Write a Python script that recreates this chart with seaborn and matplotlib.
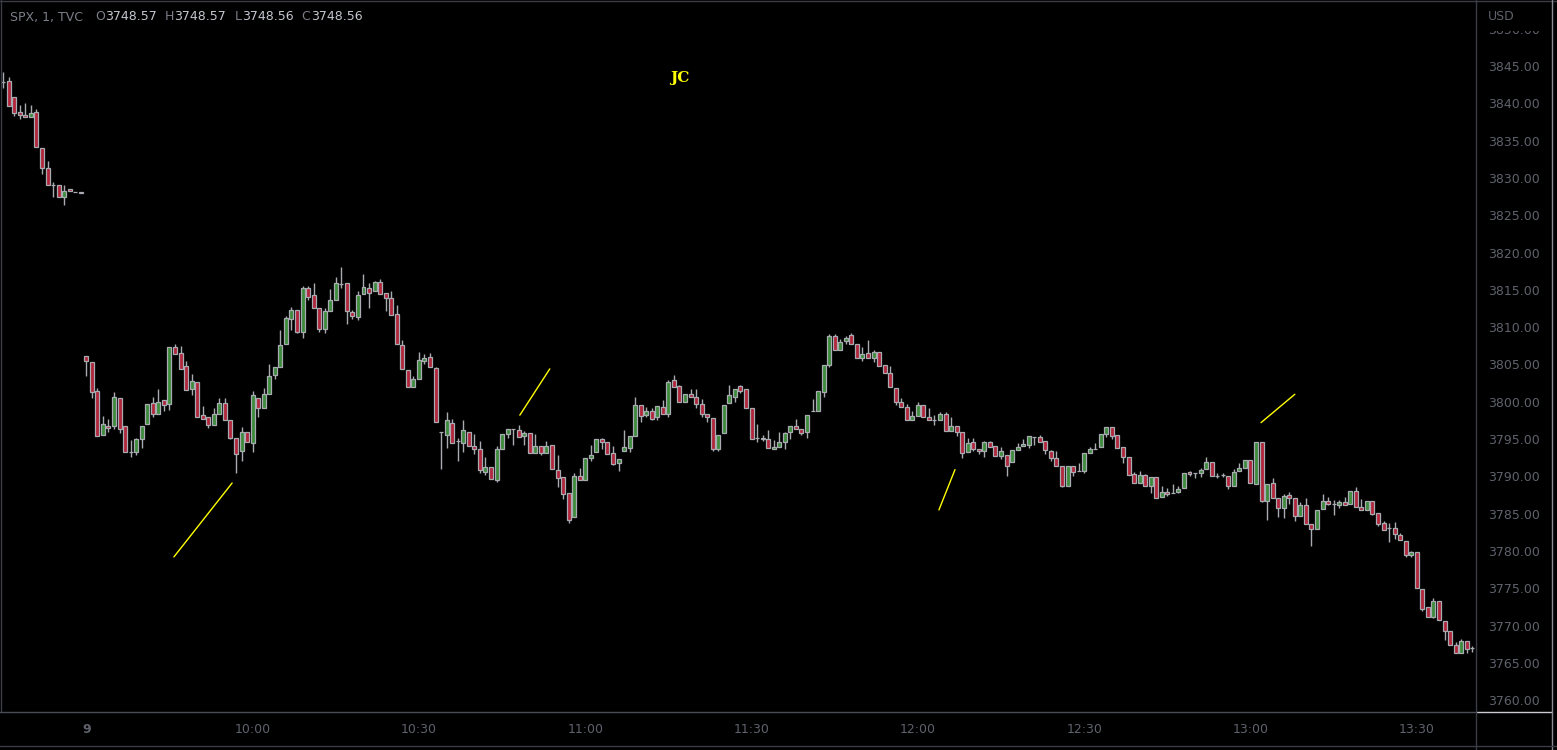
import numpy as np
import pandas as pd
import matplotlib
matplotlib.use("Agg")
import matplotlib.pyplot as plt
import seaborn as sns
from matplotlib.lines import Line2D
from matplotlib.patches import Rectangle

# ---------------- data (1-minute SPX bars) ----------------
# previous session tail (15 bars)
prev_open = [3842.9, 3843.0, 3840.8, 3838.8, 3838.4, 3838.1, 3838.8, 3834.0, 3831.3, 3829.1,
             3829.1, 3827.4, 3828.5, 3828.1, 3828.1]
prev_high = [3844.2, 3843.5, 3840.8, 3839.8, 3840.0, 3839.8, 3839.3, 3834.0, 3832.3, 3829.4,
             3829.1, 3829.1, 3828.5, 3828.1, 3828.1]
prev_low = [3842.0, 3839.7, 3838.3, 3837.9, 3838.1, 3838.1, 3834.2, 3830.5, 3829.0, 3827.5,
            3827.5, 3826.4, 3828.2, 3828.1, 3828.0]
prev_close = [3842.9, 3839.7, 3838.7, 3838.4, 3838.1, 3838.7, 3834.2, 3831.3, 3829.0, 3829.1,
              3827.5, 3828.2, 3828.2, 3828.1, 3828.0]

# session from 9:30 (251 bars)
day_open = [
    3806.1, 3805.3, 3801.4, 3795.6, 3796.8, 3796.7, 3800.5, 3796.7, 3793.2, 3793.2,
    3795.0, 3797.0, 3799.8, 3798.4, 3800.2, 3799.7, 3807.4, 3806.5, 3804.8, 3801.7,
    3802.6, 3798.2, 3797.9, 3796.9, 3798.3, 3799.8, 3797.5, 3795.1, 3793.4, 3796.0,
    3794.5, 3800.5, 3799.1, 3801.1, 3803.6, 3804.6, 3807.8, 3811.1, 3812.3, 3809.4,
    3815.2, 3814.3, 3812.5, 3809.7, 3812.2, 3813.6, 3815.8, 3815.9, 3812.0, 3811.4,
    3814.4, 3815.3, 3814.8, 3816.0, 3814.6, 3813.9, 3811.7, 3807.6, 3804.3, 3802.0,
    3803.0, 3805.4, 3806.0, 3804.5, 3795.9, 3795.6, 3797.2, 3794.7, 3794.5, 3796.0,
    3794.0, 3793.6, 3790.6, 3791.3, 3789.5, 3793.6, 3795.7, 3796.3, 3796.2, 3795.4,
    3795.8, 3793.1, 3794.0, 3793.1, 3794.2, 3790.8, 3789.9, 3787.7, 3784.6, 3790.0,
    3789.5, 3792.4, 3793.2, 3795.0, 3794.6, 3793.1, 3791.8, 3793.4, 3793.8, 3795.4,
    3799.5, 3798.2, 3798.7, 3797.9, 3799.3, 3798.3, 3802.9, 3802.1, 3800.0, 3801.1,
    3800.7, 3799.7, 3798.3, 3797.8, 3793.7, 3795.8, 3799.8, 3800.7, 3802.1, 3801.7,
    3799.1, 3795.1, 3795.2, 3795.0, 3793.6, 3793.9, 3794.6, 3795.9, 3796.8, 3796.3,
    3795.9, 3798.7, 3798.7, 3801.3, 3804.9, 3808.8, 3806.9, 3808.2, 3808.9, 3807.7,
    3805.8, 3806.5, 3805.8, 3806.6, 3804.9, 3803.8, 3801.9, 3799.9, 3799.3, 3797.5,
    3798.1, 3799.6, 3798.0, 3797.6, 3797.5, 3798.4, 3796.1, 3796.8, 3795.9, 3793.2,
    3794.56, 3793.70, 3793.36, 3794.56, 3794.03, 3792.77, 3792.90, 3791.96, 3793.49, 3794.03,
    3794.16, 3795.31, 3795.23, 3794.70, 3793.35, 3792.41, 3791.34, 3788.75, 3791.34, 3790.76,
    3790.68, 3793.17, 3793.66, 3793.97, 3795.63, 3796.57, 3795.50, 3793.89, 3792.55, 3790.27,
    3789.07, 3790.14, 3788.67, 3789.87, 3787.19, 3787.86, 3787.73, 3787.86, 3788.40, 3790.54,
    3790.41, 3790.41, 3790.95, 3791.88, 3790.09, 3790.22, 3790.00, 3788.67, 3790.68, 3791.16,
    3792.15, 3788.93, 3794.56, 3786.74, 3789.07, 3787.06, 3785.72, 3787.46, 3787.06, 3784.65,
    3786.12, 3783.57, 3782.98, 3785.58, 3786.65, 3786.33, 3786.12, 3786.52, 3786.25, 3787.99,
    3785.85, 3785.45, 3786.65, 3785.05, 3783.70, 3783.04, 3783.04, 3782.10, 3781.30, 3779.42,
    3779.82, 3774.94, 3772.44, 3771.18, 3773.25, 3770.57, 3769.23, 3767.35, 3766.28, 3767.89,
    3767.0]
day_high = [
    3806.1, 3805.3, 3801.8, 3798.1, 3797.7, 3801.3, 3800.5, 3796.7, 3794.9, 3795.1,
    3796.8, 3799.7, 3800.6, 3801.7, 3800.2, 3807.3, 3807.7, 3807.5, 3805.5, 3803.7,
    3802.6, 3799.4, 3797.9, 3799.2, 3800.5, 3800.5, 3797.5, 3795.1, 3796.6, 3796.0,
    3801.4, 3800.5, 3801.8, 3805.1, 3804.6, 3809.6, 3811.5, 3812.7, 3812.3, 3815.5,
    3815.5, 3815.9, 3812.5, 3812.5, 3815.1, 3816.7, 3818.1, 3815.9, 3812.3, 3814.9,
    3817.1, 3815.9, 3816.2, 3816.5, 3814.6, 3814.8, 3813.0, 3808.3, 3804.3, 3803.4,
    3806.7, 3806.4, 3806.5, 3804.6, 3796.0, 3798.6, 3797.7, 3795.1, 3797.5, 3796.0,
    3795.7, 3794.8, 3792.6, 3791.3, 3794.0, 3795.7, 3796.4, 3796.3, 3796.9, 3796.1,
    3795.8, 3795.7, 3794.0, 3794.7, 3794.2, 3792.9, 3789.9, 3787.7, 3790.5, 3791.1,
    3792.4, 3794.2, 3795.0, 3795.2, 3794.6, 3794.1, 3792.3, 3796.2, 3795.4, 3800.6,
    3799.5, 3799.3, 3799.1, 3799.4, 3800.2, 3802.9, 3803.6, 3802.3, 3801.1, 3801.7,
    3801.7, 3800.4, 3798.3, 3797.8, 3795.5, 3799.5, 3802.2, 3801.7, 3802.3, 3801.7,
    3799.1, 3797.0, 3795.5, 3796.2, 3794.9, 3795.9, 3796.0, 3796.8, 3797.7, 3796.3,
    3798.2, 3800.4, 3801.5, 3804.9, 3809.1, 3809.1, 3808.4, 3808.8, 3809.2, 3807.7,
    3807.3, 3808.3, 3807.0, 3806.6, 3804.9, 3804.8, 3801.9, 3800.5, 3799.7, 3798.7,
    3799.9, 3799.6, 3799.1, 3798.2, 3798.6, 3798.6, 3798.0, 3796.8, 3795.9, 3795.1,
    3795.10, 3793.70, 3794.70, 3794.70, 3794.03, 3793.89, 3792.90, 3793.49, 3794.43, 3794.96,
    3795.36, 3795.31, 3795.54, 3794.70, 3793.53, 3793.39, 3791.34, 3791.34, 3791.34, 3791.75,
    3793.09, 3793.97, 3794.43, 3795.63, 3796.57, 3796.57, 3795.50, 3793.89, 3792.55, 3790.54,
    3790.72, 3790.31, 3789.87, 3789.87, 3788.67, 3788.40, 3788.93, 3788.67, 3790.41, 3790.72,
    3790.41, 3791.08, 3792.55, 3791.88, 3790.41, 3790.45, 3790.00, 3790.94, 3791.75, 3792.15,
    3792.15, 3794.56, 3794.56, 3788.93, 3789.74, 3787.06, 3787.59, 3787.86, 3787.06, 3786.52,
    3787.10, 3783.57, 3785.45, 3787.59, 3787.19, 3786.79, 3786.87, 3787.19, 3787.99, 3788.53,
    3786.92, 3786.65, 3786.65, 3785.05, 3783.97, 3783.70, 3783.84, 3782.45, 3781.30, 3779.96,
    3779.82, 3774.94, 3772.44, 3773.70, 3773.25, 3770.57, 3769.23, 3767.75, 3768.16, 3767.89,
    3767.2]
day_low = [
    3803.4, 3800.5, 3795.4, 3795.6, 3796.0, 3796.4, 3795.8, 3793.2, 3792.6, 3792.9,
    3793.8, 3797.0, 3798.0, 3798.4, 3798.8, 3798.9, 3806.4, 3804.4, 3801.6, 3800.9,
    3798.0, 3797.7, 3796.5, 3796.9, 3798.3, 3797.5, 3795.0, 3790.5, 3792.1, 3794.6,
    3793.3, 3797.9, 3799.1, 3801.1, 3803.1, 3804.6, 3807.8, 3809.6, 3809.2, 3808.6,
    3813.6, 3812.5, 3809.4, 3809.2, 3812.2, 3813.6, 3815.3, 3810.4, 3811.1, 3811.0,
    3814.4, 3812.5, 3814.8, 3814.5, 3812.2, 3811.6, 3807.8, 3804.4, 3802.0, 3802.0,
    3803.0, 3805.1, 3804.6, 3797.3, 3791.0, 3793.8, 3794.5, 3792.0, 3793.3, 3794.0,
    3793.0, 3790.5, 3790.2, 3789.7, 3789.3, 3793.6, 3795.2, 3794.2, 3795.3, 3794.2,
    3793.1, 3793.1, 3792.8, 3793.1, 3791.0, 3788.6, 3787.0, 3783.7, 3784.6, 3789.5,
    3789.5, 3792.1, 3793.2, 3793.7, 3793.0, 3791.5, 3790.7, 3793.4, 3793.2, 3795.4,
    3797.3, 3797.9, 3797.5, 3797.5, 3798.3, 3798.0, 3802.0, 3800.0, 3799.9, 3800.7,
    3799.1, 3797.9, 3797.3, 3793.4, 3793.4, 3795.8, 3799.8, 3799.9, 3801.2, 3799.1,
    3795.0, 3794.6, 3794.7, 3793.8, 3793.6, 3793.9, 3793.7, 3795.0, 3796.3, 3795.6,
    3795.1, 3798.7, 3798.7, 3800.7, 3804.7, 3806.9, 3806.9, 3807.7, 3807.7, 3805.8,
    3805.5, 3805.8, 3805.3, 3804.8, 3803.8, 3802.0, 3799.5, 3799.3, 3797.5, 3797.5,
    3798.1, 3798.0, 3797.5, 3796.9, 3797.5, 3796.1, 3796.1, 3795.4, 3792.5, 3793.2,
    3793.44, 3792.95, 3792.63, 3793.89, 3792.69, 3792.28, 3790.09, 3791.96, 3793.49, 3794.03,
    3793.76, 3794.24, 3794.64, 3793.00, 3792.10, 3791.34, 3788.61, 3788.75, 3790.09, 3790.76,
    3790.41, 3793.17, 3793.66, 3793.97, 3795.31, 3794.96, 3793.84, 3791.83, 3790.22, 3789.07,
    3789.07, 3788.67, 3787.81, 3787.06, 3787.19, 3787.33, 3787.73, 3787.73, 3788.40, 3790.00,
    3789.74, 3789.87, 3790.95, 3790.05, 3789.74, 3789.95, 3788.26, 3788.67, 3790.68, 3791.16,
    3789.07, 3788.93, 3786.60, 3784.19, 3787.14, 3784.60, 3784.38, 3786.33, 3784.06, 3784.65,
    3783.57, 3780.71, 3782.98, 3785.58, 3786.10, 3784.86, 3785.72, 3786.12, 3786.25, 3785.85,
    3785.45, 3785.45, 3784.77, 3783.36, 3782.77, 3781.24, 3781.65, 3781.43, 3779.23, 3779.23,
    3775.08, 3772.00, 3771.18, 3771.05, 3770.70, 3768.09, 3767.35, 3766.28, 3766.28, 3766.28,
    3766.5]
day_close = [
    3805.4, 3801.3, 3795.4, 3797.0, 3796.5, 3800.6, 3796.4, 3793.2, 3793.2, 3795.0,
    3796.8, 3799.7, 3798.3, 3799.9, 3799.5, 3807.3, 3806.4, 3804.4, 3801.6, 3802.8,
    3798.0, 3797.7, 3796.9, 3798.3, 3799.8, 3797.5, 3795.2, 3793.0, 3796.0, 3794.6,
    3800.9, 3799.1, 3801.0, 3803.5, 3804.6, 3807.6, 3811.2, 3812.3, 3809.4, 3815.3,
    3814.1, 3812.5, 3809.8, 3812.1, 3813.6, 3815.9, 3815.8, 3812.1, 3811.5, 3814.3,
    3815.4, 3814.6, 3816.0, 3814.5, 3813.9, 3811.6, 3807.8, 3804.4, 3802.0, 3803.0,
    3805.6, 3805.9, 3804.6, 3797.3, 3795.9, 3797.5, 3794.5, 3794.7, 3796.2, 3794.0,
    3793.6, 3790.8, 3791.3, 3789.7, 3793.7, 3795.7, 3796.4, 3796.3, 3795.3, 3795.8,
    3793.1, 3794.0, 3793.1, 3794.0, 3791.0, 3789.8, 3787.6, 3784.2, 3790.0, 3789.5,
    3792.4, 3792.8, 3795.0, 3794.6, 3793.0, 3791.6, 3792.3, 3793.9, 3795.4, 3799.5,
    3798.1, 3798.7, 3797.7, 3799.4, 3798.3, 3802.7, 3802.0, 3800.0, 3801.1, 3800.7,
    3799.7, 3798.3, 3797.9, 3793.6, 3795.5, 3799.5, 3800.9, 3801.7, 3801.5, 3799.1,
    3795.0, 3795.1, 3795.0, 3793.8, 3793.9, 3794.6, 3795.8, 3796.8, 3796.3, 3795.8,
    3798.2, 3798.7, 3801.5, 3804.9, 3808.8, 3806.9, 3808.0, 3808.6, 3807.7, 3805.8,
    3806.4, 3805.8, 3806.6, 3804.8, 3803.8, 3802.0, 3799.9, 3799.3, 3797.5, 3798.1,
    3799.6, 3798.0, 3797.5, 3797.6, 3798.3, 3796.1, 3796.8, 3795.9, 3793.1, 3794.5,
    3793.66, 3793.36, 3794.56, 3793.89, 3792.69, 3793.44, 3791.35, 3793.49, 3793.89, 3794.29,
    3795.36, 3795.31, 3794.64, 3793.49, 3792.41, 3791.34, 3788.75, 3791.34, 3790.54, 3790.76,
    3793.09, 3793.62, 3793.66, 3795.63, 3796.57, 3795.44, 3793.84, 3792.63, 3790.22, 3789.07,
    3790.14, 3788.67, 3789.87, 3787.06, 3787.94, 3787.59, 3787.73, 3788.26, 3790.41, 3790.27,
    3790.41, 3790.81, 3791.88, 3790.05, 3790.09, 3790.22, 3788.67, 3790.54, 3791.08, 3792.15,
    3789.07, 3794.56, 3786.74, 3788.93, 3787.14, 3785.72, 3787.41, 3787.06, 3784.69, 3786.12,
    3783.57, 3782.90, 3785.45, 3786.65, 3786.33, 3786.33, 3786.52, 3786.12, 3787.99, 3785.85,
    3785.45, 3786.65, 3784.99, 3783.57, 3782.77, 3783.04, 3782.23, 3781.43, 3779.42, 3779.82,
    3775.08, 3772.26, 3771.18, 3773.25, 3770.70, 3769.23, 3767.35, 3766.28, 3767.89, 3766.82,
    3767.0]

time_ticks = [0, 30, 60, 90, 120, 150, 180, 210, 240]
time_labels = ["9", "10:00", "10:30", "11:00", "11:30", "12:00", "12:30", "13:00", "13:30"]
price_ticks = [3760, 3765, 3770, 3775, 3780, 3785, 3790, 3795, 3800, 3805, 3810,
               3815, 3820, 3825, 3830, 3835, 3840, 3845, 3850]

# hand-drawn yellow trend marks (bar index, price)
mark_seg = [1, 1, 2, 2, 3, 3, 4, 4]
mark_x = [15.8, 26.3, 78.2, 83.6, 153.8, 156.7, 211.9, 218.0]
mark_y = [3779.2, 3789.1, 3798.2, 3804.4, 3785.5, 3790.9, 3797.2, 3801.0]

header_items = [("SPX, 1, TVC", 10, "lab"), ("O", 95, "lab"), ("3748.57", 105, "val"),
                ("H", 165, "lab"), ("3748.57", 174, "val"), ("L", 235, "lab"),
                ("3748.56", 242, "val"), ("C", 301, "lab"), ("3748.56", 311, "val")]

# ---------------- styling ----------------
W, H = 1557, 750
BG = "#000000"
RED = "#b2253a"
GREEN = "#3c8c3c"
EDGE = "#a9abb2"
AXIS_TXT = "#5f626c"
LINE = "#3a3d46"
YEL = "#ffff00"

sns.set_theme(style="dark")
plt.rcParams["font.family"] = ["DejaVu Sans"]
plt.rcParams["axes.facecolor"] = BG
plt.rcParams["figure.facecolor"] = BG

df = pd.DataFrame({
    "idx": list(range(-len(prev_open), 0)) + list(range(len(day_open))),
    "open": prev_open + day_open,
    "high": prev_high + day_high,
    "low": prev_low + day_low,
    "close": prev_close + day_close,
})
df["up"] = df["close"] >= df["open"]
df["bottom"] = df[["open", "close"]].min(axis=1)
df["height"] = (df["close"] - df["open"]).abs()

fig = plt.figure(figsize=(W / 100, H / 100), dpi=100, facecolor=BG)
ax = fig.add_axes([0, 38 / H, 1475 / W, 712 / H])
ax.set_facecolor(BG)

ax.vlines(df["idx"], df["low"], df["high"], color=EDGE, linewidth=1.0, zorder=2)
ax.bar(df["idx"], df["height"], width=0.72, bottom=df["bottom"],
       color=np.where(df["up"], GREEN, RED), edgecolor=EDGE, linewidth=0.9, zorder=3)

marks = pd.DataFrame({"seg": mark_seg, "x": mark_x, "y": mark_y})
sns.lineplot(data=marks, x="x", y="y", units="seg", estimator=None, sort=False,
             color=YEL, linewidth=1.0, ax=ax, legend=False, zorder=4)

ax.set_xlim(-15.57, 250.5)
ax.set_ylim(3758.41, 3853.85)
ax.set_xlabel("")
ax.set_ylabel("")
ax.grid(False)
for s in ax.spines.values():
    s.set_visible(False)

ax.yaxis.tick_right()
ax.set_yticks(price_ticks)
ax.set_yticklabels([f"{p:.2f}" for p in price_ticks])
ax.tick_params(axis="y", length=0, pad=9.5, labelsize=9, labelcolor=AXIS_TXT)
ax.set_xticks(time_ticks)
ax.set_xticklabels(time_labels)
ax.tick_params(axis="x", length=0, pad=8, labelsize=9, labelcolor=AXIS_TXT)
ax.get_xticklabels()[0].set_fontweight("bold")

# annotation text
ax.text(680 / 1475, 1 - 78 / 712, "JC", transform=ax.transAxes, color=YEL,
        family="DejaVu Serif", fontsize=11, fontweight="bold", ha="center", va="center", zorder=5)


def fx(px):
    return px / W


def fy(py):
    return 1 - py / H


# cover area for the price scale header (hides most of the 3850 label)
fig.patches.append(Rectangle((fx(1476), fy(31)), (1551 - 1476) / W, 31 / H,
                             transform=fig.transFigure, facecolor=BG, edgecolor="none", zorder=1))
fig.text(fx(1488), fy(16), "USD", color=AXIS_TXT, fontsize=9, ha="left", va="center", zorder=2)

# frame lines
for (x0, y0, x1, y1, c) in [
    (0, 0.5, W, 0.5, LINE),
    (0.5, 0, 0.5, 712, LINE),
    (0, 712, 1475, 712, "#4a4d57"),
    (1476, 712, 1552, 712, "#c9cbd1"),
    (1475.5, 0, 1475.5, H, LINE),
    (1552, 0, 1552, H, "#8a8c94"),
    (0, 745.5, W, 745.5, LINE),
]:
    fig.add_artist(Line2D([fx(x0), fx(x1)], [fy(y0), fy(y1)], transform=fig.transFigure,
                          color=c, linewidth=1.0, zorder=3))

# header legend
for txt, px, kind in header_items:
    fig.text(fx(px), fy(17), txt, color=("#7b7e88" if kind == "lab" else "#c3c6cd"),
             fontsize=9, ha="left", va="center", zorder=4)

fig.savefig("out.png", dpi=100, facecolor=BG)
